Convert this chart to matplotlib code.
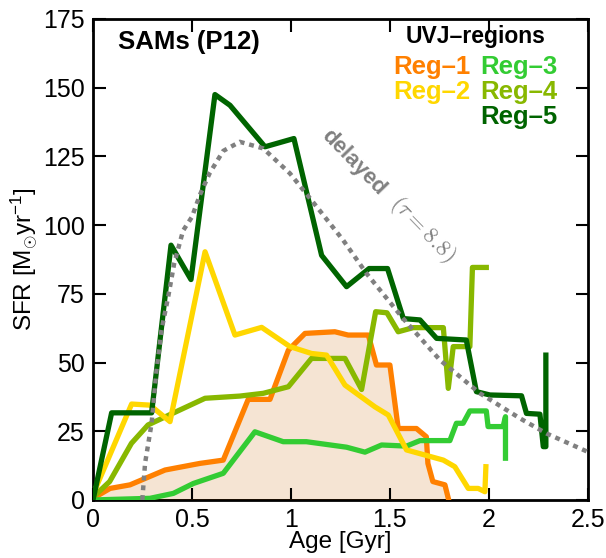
import matplotlib
matplotlib.use("Agg")
import matplotlib.pyplot as plt

plt.rcParams['font.family'] = ['Liberation Sans', 'DejaVu Sans']
plt.rcParams['mathtext.fontset'] = 'custom'
plt.rcParams['mathtext.rm'] = 'Liberation Sans'
plt.rcParams['mathtext.it'] = 'Liberation Sans:italic'
plt.rcParams['mathtext.bf'] = 'Liberation Sans:bold'

# star formation histories per UVJ region (age in Gyr, SFR in Msun/yr)
reg1_x = [0, 0.086, 0.187, 0.364, 0.54, 0.658, 0.784, 0.894, 0.987, 1.071, 1.222, 1.289,
          1.391, 1.432, 1.5, 1.542, 1.634, 1.684, 1.692, 1.717, 1.778, 1.795]
reg1_y = [0.6, 4.2, 5.5, 10.9, 13.3, 14.5, 36.6, 36.6, 54.5, 60.6, 61.2, 60,
          60, 49.1, 49.1, 26, 26, 23, 13.3, 6.7, 5.5, 0.6]

reg2_x = [0, 0.195, 0.288, 0.389, 0.566, 0.717, 0.852, 0.995, 1.104, 1.18, 1.273, 1.424,
          1.492, 1.584, 1.77, 1.828, 1.896, 1.946, 1.98, 1.985]
reg2_y = [2, 34.9, 34.5, 28.5, 90.3, 60, 62.8, 55.8, 53.3, 52.7, 41.8, 33.9,
          30.9, 18.2, 14.5, 12.1, 4.2, 4.2, 3, 12.1]

reg3_x = [0, 0.288, 0.406, 0.507, 0.658, 0.818, 0.961, 1.078, 1.281, 1.374, 1.458, 1.584,
          1.652, 1.803, 1.836, 1.87, 1.904, 1.987, 1.996, 2.072, 2.084, 2.084]
reg3_y = [0, 0.6, 2.4, 6, 9.7, 24.8, 21.2, 21.2, 19.2, 17.4, 20, 19.6,
          21.6, 21.6, 27.9, 27.9, 32.4, 32.4, 26.7, 26.7, 30.3, 15.2]

reg4_x = [0, 0.084, 0.194, 0.278, 0.387, 0.566, 0.742, 0.86, 0.987, 1.104, 1.273, 1.357,
          1.428, 1.485, 1.542, 1.618, 1.77, 1.795, 1.82, 1.904, 1.917, 1.987]
reg4_y = [1, 6.7, 20.6, 27.3, 31, 37, 37.8, 38.8, 41.2, 51.5, 51.5, 40.2,
          68.5, 68.1, 61.2, 62.7, 62.7, 40.6, 55.8, 55.8, 84.6, 84.6]

reg5_x = [0, 0.094, 0.296, 0.394, 0.495, 0.616, 0.692, 0.869, 1.015, 1.155, 1.281, 1.395,
          1.488, 1.568, 1.652, 1.736, 1.886, 1.937, 2.005, 2.165, 2.19, 2.258, 2.275,
          2.288, 2.288]
reg5_y = [0, 31.7, 31.7, 92.7, 80.2, 147.5, 143.6, 128.5, 131.5, 89, 77.6, 84.2,
          84.2, 66, 65.5, 58.8, 58.2, 39.4, 38.2, 37.9, 31.5, 31.2, 19.4,
          19.4, 52.7]

# delayed SFH model curve
dl_x = [0.249, 0.263, 0.296, 0.321, 0.346, 0.38, 0.41, 0.455, 0.5, 0.54, 0.59, 0.658,
        0.742, 0.86, 0.995, 1.13, 1.264, 1.382, 1.567, 1.753, 1.955, 2.157, 2.291, 2.5]
dl_y = [0, 13.4, 27.9, 47.3, 61.8, 74, 86, 98, 103, 111, 119, 127,
        130.3, 127.9, 118.8, 106.7, 94.5, 82.4, 66, 50.9, 38.8, 29.7, 24.2, 17.5]

c1 = '#ff8000'
c2 = '#ffd700'
c3 = '#33cc33'
c4 = '#88b800'
c5 = '#006400'

fig = plt.figure(figsize=(6.06, 5.58), dpi=100)
ax = fig.add_axes([0.1535, 0.104, 0.8165, 0.862])

ax.fill_between(reg1_x, 0, reg1_y, color='#f5e4d3', lw=0, zorder=1)
ax.plot([0, reg1_x[-1]], [0, 0], color=c1, lw=2, zorder=2)

lw = 3.8
ax.plot(reg1_x, reg1_y, color=c1, lw=lw, zorder=3)
ax.plot(reg3_x, reg3_y, color=c3, lw=lw, zorder=3)
ax.plot(reg4_x, reg4_y, color=c4, lw=lw, zorder=3)
ax.plot(reg2_x, reg2_y, color=c2, lw=lw, zorder=3)
ax.plot(reg5_x, reg5_y, color=c5, lw=lw, zorder=3)
ax.plot(dl_x, dl_y, color='#808080', lw=3.2, ls=(0, (1.1, 1.1)), zorder=4)

ax.set_xlim(0, 2.5)
ax.set_ylim(0, 175)
ax.set_xticks([0, 0.5, 1, 1.5, 2, 2.5])
ax.set_xticklabels(['0', '0.5', '1', '1.5', '2', '2.5'])
ax.set_yticks([0, 25, 50, 75, 100, 125, 150, 175])
ax.tick_params(direction='in', top=True, right=True, length=9, width=1.5,
               labelsize=18, pad=6)
for s in ax.spines.values():
    s.set_linewidth(2)

ax.set_xlabel('Age [Gyr]', fontsize=17.5, labelpad=-1)
ax.set_ylabel(r'SFR [M$_{\odot}$yr$^{-1}$]', fontsize=17.5, labelpad=2)

ax.text(0.05, 0.952, 'SAMs (P12)', transform=ax.transAxes, fontsize=18.5,
        fontweight='bold', ha='left', va='center')
ax.text(0.774, 0.963, 'UVJ–regions', transform=ax.transAxes, fontsize=16.5,
        fontweight='bold', ha='center', va='center')
ax.text(0.762, 0.900, 'Reg–1', transform=ax.transAxes, fontsize=18.5,
        fontweight='bold', color=c1, ha='right', va='center')
ax.text(0.762, 0.848, 'Reg–2', transform=ax.transAxes, fontsize=18.5,
        fontweight='bold', color=c2, ha='right', va='center')
ax.text(0.782, 0.900, 'Reg–3', transform=ax.transAxes, fontsize=18.5,
        fontweight='bold', color=c3, ha='left', va='center')
ax.text(0.782, 0.848, 'Reg–4', transform=ax.transAxes, fontsize=18.5,
        fontweight='bold', color=c4, ha='left', va='center')
ax.text(0.782, 0.796, 'Reg–5', transform=ax.transAxes, fontsize=18.5,
        fontweight='bold', color=c5, ha='left', va='center')

ax.text(1.318, 122.8, 'delayed', fontsize=16, fontweight='bold', color='#808080',
        rotation=-46, ha='center', va='center', rotation_mode='anchor')
ax.text(1.665, 98.5, r'$(\tau=8.8)$', fontsize=16.5, color='#808080',
        rotation=-46, ha='center', va='center', rotation_mode='anchor',
        math_fontfamily='cm')

fig.savefig('out.png', dpi=100)
